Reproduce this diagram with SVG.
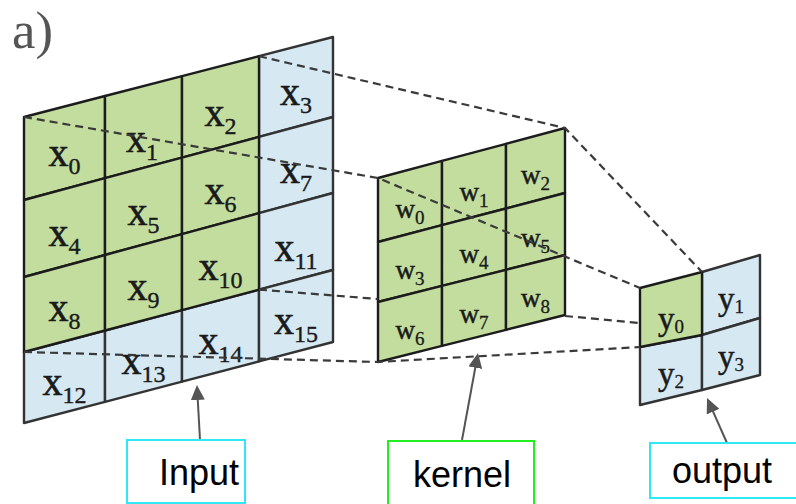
<svg xmlns="http://www.w3.org/2000/svg" width="796" height="504" viewBox="0 0 796 504">
<defs>
<style>
.g{fill:#c3dd9f;stroke:#1c1c1c;stroke-width:2.4;stroke-linejoin:round}
.b{fill:#d6e9f2;stroke:#333;stroke-width:2.4;stroke-linejoin:round}
.xl{font-family:"Liberation Serif","Times New Roman",serif;font-size:40px;fill:#1a1a1a;stroke:#1a1a1a;stroke-width:0.6;text-anchor:middle}
.xs{font-size:24px;stroke-width:0.4}
.wl{font-family:"Liberation Serif","Times New Roman",serif;font-size:27px;fill:#1a1a1a;stroke:#1a1a1a;stroke-width:0.5;text-anchor:middle}
.ws{font-size:19px;stroke-width:0.3}
.yl{font-family:"Liberation Serif","Times New Roman",serif;font-size:33px;fill:#1a1a1a;stroke:#1a1a1a;stroke-width:0.5;text-anchor:middle}
.ys{font-size:19px;stroke-width:0.3}
.dash{fill:none;stroke:#3a3a3a;stroke-width:2.2;stroke-dasharray:8 5}
.arrow{fill:none;stroke:#555;stroke-width:2;marker-end:url(#ah)}
.box rect{fill:#fff;stroke-width:2}
.box text{font-family:"Liberation Sans",Arial,sans-serif;font-size:36px;fill:#000;text-anchor:middle}
</style>
<marker id="ah" markerUnits="userSpaceOnUse" markerWidth="15" markerHeight="14" refX="5" refY="7" orient="auto">
<path d="M0,0 L15,7 L0,14 z" fill="#555"/>
</marker>
</defs>
<rect width="796" height="504" fill="#fff"/>
<text x="12" y="48" font-family="Liberation Serif, Times New Roman, serif" font-size="52" fill="#555" textLength="41" lengthAdjust="spacingAndGlyphs">a)</text>

<g id="input">
<g id="x3"><polygon class="b" points="259,56.2 333,37 333,117 259,136.9"/><text class="xl" x="296" y="105">x<tspan class="xs" dy="8">3</tspan></text></g>
<g id="x7"><polygon class="b" points="259,136.9 333,117 333,193 259,213.1"/><text class="xl" x="296" y="183">x<tspan class="xs" dy="8">7</tspan></text></g>
<g id="x11"><polygon class="b" points="259,213.1 333,193 333,270 259,289.6"/><text class="xl" x="296" y="261">x<tspan class="xs" dy="8">11</tspan></text></g>
<g id="x12"><polygon class="b" points="24,352 105,330.5 105,401.8 24,423"/><text class="xl" x="64.5" y="395">x<tspan class="xs" dy="8">12</tspan></text></g>
<g id="x13"><polygon class="b" points="105,330.5 182,310.1 182,381.6 105,401.8"/><text class="xl" x="143.5" y="374">x<tspan class="xs" dy="8">13</tspan></text></g>
<g id="x14"><polygon class="b" points="182,310.1 259,289.6 259,361.4 182,381.6"/><text class="xl" x="220.5" y="354">x<tspan class="xs" dy="8">14</tspan></text></g>
<g id="x15"><polygon class="b" points="259,289.6 333,270 333,342 259,361.4"/><text class="xl" x="296" y="334">x<tspan class="xs" dy="8">15</tspan></text></g>
<g id="x0"><polygon class="g" points="24,117 105,96 105,178.2 24,200"/><text class="xl" x="64.5" y="166">x<tspan class="xs" dy="8">0</tspan></text></g>
<g id="x1"><polygon class="g" points="105,96 182,76.1 182,157.6 105,178.2"/><text class="xl" x="142" y="152">x<tspan class="xs" dy="8">1</tspan></text></g>
<g id="x2"><polygon class="g" points="182,76.1 259,56.2 259,136.9 182,157.6"/><text class="xl" x="220.5" y="126">x<tspan class="xs" dy="8">2</tspan></text></g>
<g id="x4"><polygon class="g" points="24,200 105,178.2 105,255 24,277"/><text class="xl" x="64.5" y="246">x<tspan class="xs" dy="8">4</tspan></text></g>
<g id="x5"><polygon class="g" points="105,178.2 182,157.6 182,234.1 105,255"/><text class="xl" x="143.5" y="225">x<tspan class="xs" dy="8">5</tspan></text></g>
<g id="x6"><polygon class="g" points="182,157.6 259,136.9 259,213.1 182,234.1"/><text class="xl" x="220.5" y="204">x<tspan class="xs" dy="8">6</tspan></text></g>
<g id="x8"><polygon class="g" points="24,277 105,255 105,330.5 24,352"/><text class="xl" x="64.5" y="321">x<tspan class="xs" dy="8">8</tspan></text></g>
<g id="x9"><polygon class="g" points="105,255 182,234.1 182,310.1 105,330.5"/><text class="xl" x="143.5" y="300">x<tspan class="xs" dy="8">9</tspan></text></g>
<g id="x10"><polygon class="g" points="182,234.1 259,213.1 259,289.6 182,310.1"/><text class="xl" x="220.5" y="280">x<tspan class="xs" dy="8">10</tspan></text></g>
</g>

<g id="kernel">
<g id="w0"><polygon class="g" points="378,178 442,160.9 442,225.2 378,242"/><text class="wl" x="410" y="218">w<tspan class="ws" dy="6">0</tspan></text></g>
<g id="w1"><polygon class="g" points="442,160.9 506,143.8 506,208.5 442,225.2"/><text class="wl" x="474" y="201">w<tspan class="ws" dy="6">1</tspan></text></g>
<g id="w2"><polygon class="g" points="506,143.8 565,128 565,193 506,208.5"/><text class="wl" x="535.5" y="184">w<tspan class="ws" dy="6">2</tspan></text></g>
<g id="w3"><polygon class="g" points="378,242 442,225.2 442,285.9 378,302"/><text class="wl" x="410" y="279">w<tspan class="ws" dy="6">3</tspan></text></g>
<g id="w4"><polygon class="g" points="442,225.2 506,208.5 506,269.8 442,285.9"/><text class="wl" x="474" y="263">w<tspan class="ws" dy="6">4</tspan></text></g>
<g id="w5"><polygon class="g" points="506,208.5 565,193 565,255 506,269.8"/><text class="wl" x="535.5" y="247">w<tspan class="ws" dy="6">5</tspan></text></g>
<g id="w6"><polygon class="g" points="378,302 442,285.9 442,345.9 378,362"/><text class="wl" x="410" y="339">w<tspan class="ws" dy="6">6</tspan></text></g>
<g id="w7"><polygon class="g" points="442,285.9 506,269.8 506,329.8 442,345.9"/><text class="wl" x="474" y="323">w<tspan class="ws" dy="6">7</tspan></text></g>
<g id="w8"><polygon class="g" points="506,269.8 565,255 565,315 506,329.8"/><text class="wl" x="535.5" y="307">w<tspan class="ws" dy="6">8</tspan></text></g>
</g>

<g id="output">
<g id="y1"><polygon class="b" points="702,272 760,255 760,318 702,335"/><text class="yl" x="731" y="310">y<tspan class="ys" dy="3">1</tspan></text></g>
<g id="y2"><polygon class="b" points="640,347 702,335 702,390 640,405"/><text class="yl" x="671" y="385">y<tspan class="ys" dy="3">2</tspan></text></g>
<g id="y3"><polygon class="b" points="702,335 760,318 760,375 702,390"/><text class="yl" x="731" y="368">y<tspan class="ys" dy="3">3</tspan></text></g>
<g id="y0"><polygon class="g" points="640,288 702,272 702,335 640,347"/><text class="yl" x="671" y="330">y<tspan class="ys" dy="3">0</tspan></text></g>
</g>

<g id="connectors">
<path class="dash" d="M259,56.2 L565,128 L702,272"/>
<path class="dash" d="M24,117 L378,178 L640,288"/>
<path class="dash" d="M259,289.6 L378,299 M565,316 L640,323"/>
<path class="dash" d="M24,352 L378,362 L640,347"/>
<path class="arrow" d="M200,440 L197.5,395"/>
<path class="arrow" d="M462,440 L476.2,362.8"/>
<path class="arrow" d="M727,443 L711.1,407.1"/>
</g>

<g id="label-input" class="box"><rect x="127" y="440" width="118" height="63" stroke="#2ee8f5"/><text x="199" y="485">Input</text></g>
<g id="label-kernel" class="box"><rect x="388" y="441" width="146" height="66" stroke="#22ee22"/><text x="462" y="487">kernel</text></g>
<g id="label-output" class="box"><rect x="650" y="443" width="150" height="55" stroke="#2ee8f5"/><text x="722" y="483">output</text></g>
</svg>
